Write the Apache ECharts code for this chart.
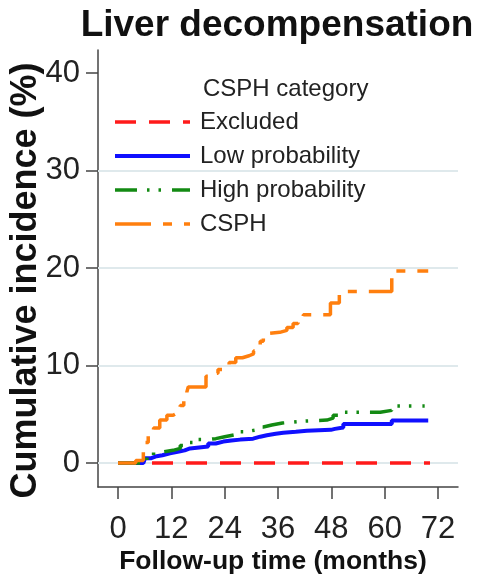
<!DOCTYPE html>
<html><head><meta charset="utf-8">
<script src="https://cdn.jsdelivr.net/npm/echarts@6/dist/echarts.min.js"></script>
<style>html,body{margin:0;padding:0;background:#fff}#c{width:477px;height:580px}</style>
</head><body><div id="c"></div>
<script>
const chartTitle = 'Liver decompensation';
const legendTitle = 'CSPH category';
const xTitle = 'Follow-up time (months)';
const yTitle = 'Cumulative incidence (%)';
const seriesNames = ['Excluded', 'Low probability', 'High probability', 'CSPH'];
const xTicks = [0, 12, 24, 36, 48, 60, 72];
const yTicks = [0, 10, 20, 30, 40];
const gridValues = [0, 10, 20, 30];

// [month, cumulative incidence %]
const excluded = [[0,0],[70.2,0]];
const lowProb = [[0,0],[5.7,0.1],[6.1,0.5],[7.5,0.7],[8.7,0.8],[10,1.0],[11.7,1.2],[14,1.3],[15,1.5],[16.2,1.7],[20.3,2.0],[22,2.2],[23.7,2.3],[25.5,2.4],[27.5,2.5],[30.4,2.7],[32,2.85],[33.5,3.0],[35.5,3.1],[37.2,3.2],[40,3.3],[42.5,3.4],[47.9,3.5],[48.8,3.65],[50.7,4.0],[61.6,4.35],[69.8,4.35]];
const highProb = [[0,0],[5.7,0.3],[6.5,0.8],[8,1.1],[9.8,1.3],[12.4,1.5],[14,1.8],[15.5,2.1],[18,2.4],[20,2.5],[22,2.7],[24,2.9],[26.3,3.2],[28.5,3.4],[31.2,3.7],[32.7,3.9],[34.6,4.1],[37,4.2],[39.4,4.3],[41.7,4.4],[47,4.6],[48.4,4.9],[50,5.2],[59,5.4],[61.6,5.85],[69,5.85]];
const csph = [[0,0],[4,0.25],[5.7,2.1],[6.8,2.9],[8,3.6],[9.4,4.4],[11,4.9],[12.4,5.1],[13.2,5.5],[14,5.9],[14.8,6.6],[15.5,7.3],[15.8,7.8],[19.8,8.9],[21,9.2],[22.5,9.6],[23.5,10.0],[25,10.3],[26.5,10.8],[28,11.0],[29.5,11.2],[30.5,11.5],[31.3,12.0],[32,12.5],[32.7,13.3],[34,13.4],[36.4,13.6],[38,13.9],[39.4,14.3],[40.5,14.8],[41.7,15.2],[47.8,16.4],[49.8,17.6],[61.6,19.7],[69.8,19.7]];

const sans = "'Liberation Sans', Arial, sans-serif";

const chart = echarts.init(document.getElementById('c'), null, {renderer: 'canvas'});

function lineSeries(name, data, color, width, dash) {
  return {
    name: name, type: 'line', step: 'end', data: data, symbol: 'none', z: 5,
    lineStyle: {color: color, width: width, type: dash, cap: 'butt'},
    itemStyle: {color: color, opacity: 0},
    emphasis: {disabled: true}, animation: false
  };
}

chart.setOption({
  animation: false,
  backgroundColor: '#fff',
  title: [
    {text: chartTitle, left: 272, textAlign: 'center', top: 2,
     textStyle: {fontFamily: sans, fontSize: 37, fontWeight: 'bold', color: '#111'}},
    {text: legendTitle, left: 198, top: 72,
     textStyle: {fontFamily: sans, fontSize: 24, fontWeight: 'normal', color: '#222'}}
  ],
  legend: {
    data: seriesNames, orient: 'vertical', left: 113, top: 110, padding: 0,
    itemWidth: 75, itemHeight: 14, itemGap: 10,
    itemStyle: {opacity: 0},
    lineStyle: {width: 'inherit', type: 'inherit', cap: 'butt'},
    textStyle: {fontFamily: sans, fontSize: 24, color: '#222', padding: [0, 0, 0, 5]},
    selectedMode: false
  },
  grid: {left: 98, right: 19, top: 50, bottom: 93, containLabel: false, outerBoundsMode: 'none'},
  xAxis: {
    type: 'value', min: -4.5, max: 76.5,
    name: xTitle, nameLocation: 'middle', nameGap: 61, nameMoveOverlap: false,
    nameTextStyle: {fontFamily: sans, fontSize: 26.5, fontWeight: 'bold', color: '#111', padding: [0, 10, 0, 0]},
    axisLine: {show: true, onZero: false, lineStyle: {color: '#444', width: 1.5}},
    axisTick: {show: true, customValues: xTicks, length: 12, lineStyle: {color: '#444', width: 1.5}},
    axisLabel: {customValues: xTicks, margin: 27, fontFamily: sans, fontSize: 31, color: '#222'},
    splitLine: {show: false}
  },
  yAxis: {
    type: 'value', min: -2.46, max: 42.36,
    name: yTitle, nameLocation: 'middle', nameGap: 54, nameRotate: 90, nameMoveOverlap: false,
    nameTextStyle: {fontFamily: sans, fontSize: 36, fontWeight: 'bold', color: '#111', padding: [0, 24, 0, 0]},
    axisLine: {show: true, onZero: false, lineStyle: {color: '#444', width: 1.5}},
    axisTick: {show: true, customValues: yTicks, length: 12, lineStyle: {color: '#444', width: 1.5}},
    axisLabel: {customValues: yTicks, margin: 18, fontFamily: sans, fontSize: 31, color: '#222'},
    splitLine: {show: false}
  },
  series: [
    {name: 'grid', type: 'line', data: [], silent: true, z: 1,
     markLine: {silent: true, symbol: 'none', label: {show: false}, z: 1,
       lineStyle: {color: '#dfe9ec', width: 2, type: 'solid'},
       data: gridValues.map(v => ({yAxis: v}))}},
    lineSeries(seriesNames[0], excluded, '#ff1a1a', 3.5, [21, 13]),
    lineSeries(seriesNames[1], lowProb, '#1010ff', 4, 'solid'),
    lineSeries(seriesNames[2], highProb, '#138a13', 3.5, [22, 10, 2.5, 9, 2.5, 11]),
    lineSeries(seriesNames[3], csph, '#ff7f0e', 3.5, [36, 12, 9, 12])
  ]
});
</script>
</body></html>
